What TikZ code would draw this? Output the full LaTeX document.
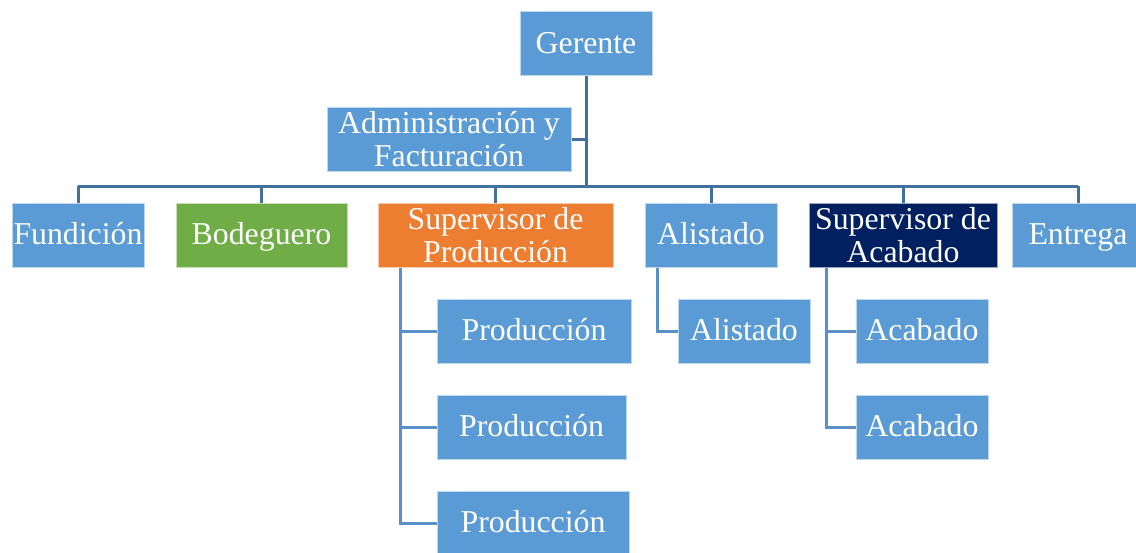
\documentclass[tikz,border=0pt]{standalone}
\usepackage{fontspec}
\setmainfont{Liberation Serif}
\definecolor{boxblue}{HTML}{5B9BD5}
\definecolor{boxgreen}{HTML}{70AD47}
\definecolor{boxorange}{HTML}{ED7D31}
\definecolor{boxnavy}{HTML}{002060}
\definecolor{linemain}{HTML}{41719C}
\definecolor{linesub}{HTML}{5A8FC8}
\begin{document}
\begin{tikzpicture}[x=1pt,y=-1pt,
  unit/.style={fill=boxblue,draw=white!60!boxblue,line width=1pt,text=white,
    inner sep=0pt,align=center,minimum height=64pt,
    font=\fontsize{31.8}{33}\selectfont},
  oneline/.style={unit,text height=24pt,text depth=5pt},
  mainline/.style={draw=linemain,line width=3pt},
  subline/.style={draw=linesub,line width=3pt}]

\useasboundingbox[fill=white] (0,0) rectangle (1136,552);

\node (gerente) at (586,43.5) [oneline,minimum width=132pt] {Gerente};
\node (admin) at (449,139.5) [unit,minimum width=244pt] {Administración y\\Facturación};

\node (fundicion) at (78,235) [oneline,minimum width=132pt] {Fundición};
\node (bodeguero) at (261.5,235) [oneline,minimum width=171pt,fill=boxgreen,draw=white!60!boxgreen] {Bodeguero};
\node (supprod) at (495.5,235) [unit,minimum width=235pt,fill=boxorange,draw=white!60!boxorange] {Supervisor de\\Producción};
\node (alistado) at (711,235) [oneline,minimum width=132pt] {Alistado};
\node (supacab) at (903,235) [unit,minimum width=188pt,fill=boxnavy,draw=white!60!boxnavy] {Supervisor de\\Acabado};
\node (entrega) at (1078,235) [oneline,minimum width=132pt] {Entrega};

\node (prod1) at (534,331) [oneline,minimum width=194pt] {Producción};
\node (prod2) at (531.5,427) [oneline,minimum width=189pt] {Producción};
\node (prod3) at (533,523) [oneline,minimum width=192pt] {Producción};
\node (alistado2) at (744,331) [oneline,minimum width=132pt] {Alistado};
\node (acabado1) at (922,331) [oneline,minimum width=132pt] {Acabado};
\node (acabado2) at (922,427) [oneline,minimum width=132pt] {Acabado};

% bus under Gerente
\node (bus) [coordinate] at (586,186) {};
\node (busL) [coordinate] at (78,186) {};
\node (busR) [coordinate] at (1078,186) {};
\node (spineP) [coordinate] at (400,267.5) {};
\node (spineL) [coordinate] at (657,267.5) {};
\node (spineA) [coordinate] at (826,267.5) {};

\draw [mainline] (gerente.south) -- (bus);
\draw [mainline] (admin.east) -- (admin.east -| bus);
\draw [mainline] (busL) -- (busR);
\foreach \n in {fundicion,bodeguero,supprod,alistado,supacab,entrega}
  \draw [mainline] (\n.north |- bus) -- (\n.north);

\draw [subline] (spineP) |- (prod3.west);
\draw [subline] (prod1.west -| spineP) -- (prod1.west);
\draw [subline] (prod2.west -| spineP) -- (prod2.west);
\draw [subline] (spineL) |- (alistado2.west);
\draw [subline] (spineA) |- (acabado2.west);
\draw [subline] (acabado1.west -| spineA) -- (acabado1.west);

\end{tikzpicture}
\end{document}
